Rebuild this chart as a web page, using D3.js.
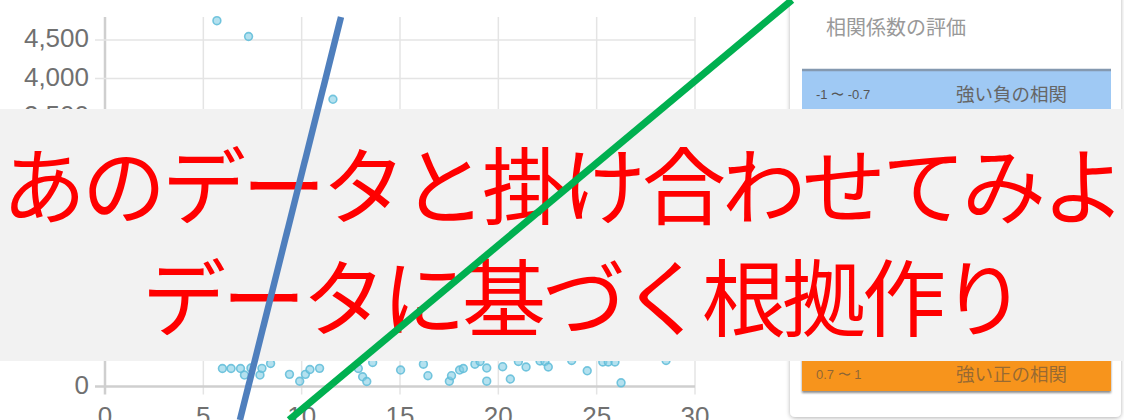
<!DOCTYPE html>
<html lang="ja">

<head>
  <meta charset="utf-8">
  <title>相関係数</title>
  <script src="https://d3js.org/d3.v7.min.js" charset="utf-8"></script>
  <style>
    body { margin: 0; background: #fff; }
    svg { display: block; }
  </style>
</head>

<body>
  <div id="chart"></div>
  <script type="text/javascript">
    // ticks
    var xTicks = [0, 5, 10, 15, 20, 25, 30];
    var yTicks = [0, 500, 1000, 1500, 2000, 2500, 3000, 3500, 4000, 4500];

    // scatter points (only what shows outside the grey band)
    var pointX = [5.69, 7.30, 11.59,
      5.97, 6.41, 6.89, 7.09, 7.42, 7.88, 7.98, 8.42, 9.38, 9.90, 10.19, 10.42, 10.91,
      12.88, 13.10, 13.31, 13.61, 15.03, 16.19, 16.42, 17.51, 17.62, 18.03, 18.22, 18.81,
      19.07, 19.41, 19.41, 20.22, 20.61, 21.02, 21.41, 22.12, 22.37, 22.54, 23.73, 24.52,
      25.31, 25.59, 25.93, 26.24, 28.53];
    var pointY = [4752, 4547, 3731,
      234, 234, 234, 149, 240, 149, 236, 299, 158, 68, 158, 221, 236,
      234, 126, 65, 312, 214, 290, 140, 68, 140, 214, 234, 290,
      325, 240, 69, 257, 97, 325, 253, 331, 325, 253, 338, 204,
      318, 318, 318, 48, 338];

    // hand-drawn lines, in chart units
    var blueLine = [[6.86, -435], [12.0, 4800]];
    var greenLine = [[9.36, -435], [34.93, 5021]];

    // side table
    var tableTitle = "相関係数の評価";
    var rowRanges = ["-1 〜 -0.7", "0.7 〜 1"];
    var rowLabels = ["強い負の相関", "強い正の相関"];

    // overlay caption
    var captionLines = ["あのデータと掛け合わせてみよう", "データに基づく根拠作り"];

    var width = 1124, height = 420;

    var svg = d3.select("#chart")
      .append("svg")
      .attr("width", width)
      .attr("height", height);

    var defs = svg.append("defs");
    var sh = defs.append("filter").attr("id", "cardShadow")
      .attr("x", "-10%").attr("y", "-10%").attr("width", "120%").attr("height", "120%");
    sh.append("feDropShadow").attr("dx", 0).attr("dy", 1).attr("stdDeviation", 2)
      .attr("flood-color", "#000").attr("flood-opacity", 0.3);
    var sh2 = defs.append("filter").attr("id", "rowShadow")
      .attr("x", "-5%").attr("y", "-20%").attr("width", "110%").attr("height", "150%");
    sh2.append("feDropShadow").attr("dx", 0).attr("dy", 2).attr("stdDeviation", 1.2)
      .attr("flood-color", "#000").attr("flood-opacity", 0.45);

    var x = d3.scaleLinear().domain([0, 30]).range([105, 695]);
    var y = d3.scaleLinear().domain([0, 4800]).range([386.5, 17]);

    var grid = svg.append("g");

    // vertical grid + tick marks
    grid.selectAll(".vg").data(xTicks).enter().append("line")
      .attr("x1", d => x(d)).attr("x2", d => x(d))
      .attr("y1", y(4800)).attr("y2", y(0) + 8)
      .attr("stroke", d => d === 0 ? "#cfcfcf" : "#e4e4e4")
      .attr("stroke-width", d => d === 0 ? 2.5 : 1.5);

    // horizontal grid + tick marks
    grid.selectAll(".hg").data(yTicks).enter().append("line")
      .attr("x1", x(0) - 10).attr("x2", x(30))
      .attr("y1", d => y(d)).attr("y2", d => y(d))
      .attr("stroke", d => d === 0 ? "#cfcfcf" : "#e4e4e4")
      .attr("stroke-width", d => d === 0 ? 2.5 : 1.5);

    var fmt = d3.format(",");
    svg.selectAll(".yl").data(yTicks).enter().append("text")
      .attr("x", 89).attr("y", d => y(d) + 7)
      .attr("text-anchor", "end")
      .attr("font-family", "Liberation Sans, Arial, sans-serif")
      .attr("font-size", 26)
      .attr("fill", "#707070")
      .text(d => fmt(d));

    svg.selectAll(".xl").data(xTicks).enter().append("text")
      .attr("x", d => x(d)).attr("y", 425)
      .attr("text-anchor", "middle")
      .attr("font-family", "Liberation Sans, Arial, sans-serif")
      .attr("font-size", 26)
      .attr("fill", "#707070")
      .text(d => d);

    // points
    svg.selectAll(".pt").data(pointX).enter().append("circle")
      .attr("cx", d => x(d))
      .attr("cy", (d, i) => y(pointY[i]))
      .attr("r", 3.9)
      .attr("fill", "rgba(130,205,228,0.6)")
      .attr("stroke", "rgba(95,188,216,0.85)")
      .attr("stroke-width", 1.6);

    // card on the right
    svg.append("rect")
      .attr("x", 790).attr("y", -10)
      .attr("width", 331).attr("height", 427)
      .attr("rx", 5)
      .attr("fill", "#fff")
      .attr("filter", "url(#cardShadow)");

    svg.append("text")
      .attr("x", 826).attr("y", 35)
      .attr("font-family", "Noto Sans CJK JP")
      .attr("font-size", 20)
      .attr("fill", "#999")
      .text(tableTitle);

    var rowColors = ["#9fc9f4", "#f7941d"];
    var rowTop = [69, 338];
    var rowH = [45, 53];

    rowRanges.forEach(function (r, i) {
      svg.append("rect")
        .attr("x", 802).attr("y", rowTop[i])
        .attr("width", 309).attr("height", rowH[i])
        .attr("fill", rowColors[i])
        .attr("filter", i === 1 ? "url(#rowShadow)" : null);
      var ty = i === 0 ? 100 : 380;
      svg.append("text")
        .attr("x", 816).attr("y", ty - 1)
        .attr("font-family", "Liberation Sans, Arial, sans-serif")
        .attr("font-size", 13)
        .attr("fill", i === 0 ? "#555" : "rgba(70,70,70,0.6)")
        .text(r);
      svg.append("text")
        .attr("x", 956).attr("y", ty + 1)
        .attr("font-family", "Noto Sans CJK JP")
        .attr("font-size", 18.5)
        .attr("fill", i === 0 ? "#666" : "rgba(70,70,70,0.55)")
        .text(rowLabels[i]);
    });

    svg.append("line")
      .attr("x1", 802).attr("x2", 1111)
      .attr("y1", 70).attr("y2", 70)
      .attr("stroke", "#8499b0")
      .attr("stroke-width", 2.5);

    // grey band + red caption
    svg.append("rect")
      .attr("x", 0).attr("y", 109)
      .attr("width", width).attr("height", 252)
      .attr("fill", "#f2f2f2");

    svg.selectAll(".cap").data(captionLines).enter().append("text")
      .attr("x", (d, i) => i === 0 ? 2 : 582)
      .attr("y", (d, i) => i === 0 ? 218 : 330)
      .attr("text-anchor", (d, i) => i === 0 ? "start" : "middle")
      .attr("font-family", "Noto Sans CJK JP")
      .attr("font-size", 84)
      .attr("letter-spacing", -4)
      .attr("fill", "#ff0000")
      .text(d => d);

    // the two drawn lines sit on top of everything
    var line = d3.line().x(d => x(d[0])).y(d => y(d[1]));

    svg.append("path")
      .attr("d", line(blueLine))
      .attr("stroke", "#4f7fbd")
      .attr("stroke-width", 6.5)
      .attr("fill", "none");

    svg.append("path")
      .attr("d", line(greenLine))
      .attr("stroke", "#00b050")
      .attr("stroke-width", 7)
      .attr("fill", "none");
  </script>
</body>

</html>
